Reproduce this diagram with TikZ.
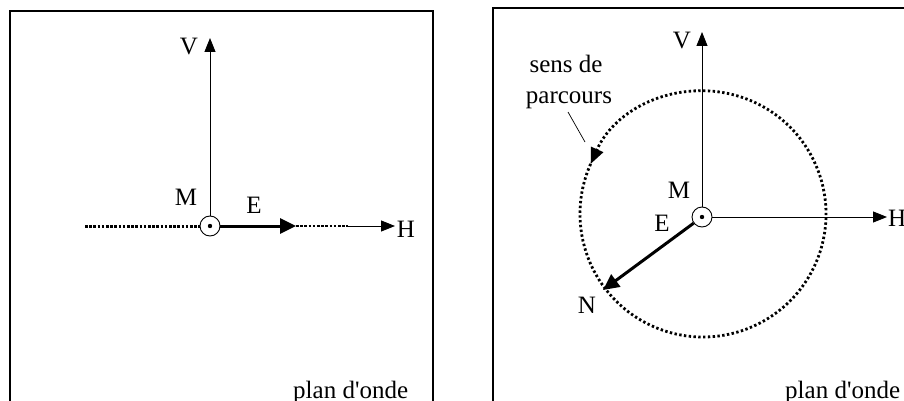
\documentclass[tikz,border=0pt]{standalone}
\usepackage{fontspec}
\setmainfont{Liberation Serif}
\usetikzlibrary{arrows.meta,calc}
\begin{document}
\begin{tikzpicture}[x=1pt,y=-1pt,
  lbl/.style={font=\fontsize{25}{30}\selectfont, inner sep=0pt},
  frame/.style={line width=1.5pt},
  axis/.style={line width=0.9pt, -{Triangle[length=14pt,width=11pt]}},
  evec/.style={line width=3pt, -{Triangle[length=16pt,width=15pt]}},
  dotline/.style={line width=3pt, dash pattern=on 2.6pt off 1.6pt},
  circdots/.style={line width=2.8pt, dash pattern=on 2.4pt off 2.4pt},
  origin/.style={circle, draw, fill=white, minimum size=20pt, inner sep=0pt, line width=0.9pt}]
\useasboundingbox (0,0) rectangle (904,401);
\clip (0,0) rectangle (904,401);
\fill[white] (0,0) rectangle (904,401);

% frames
\draw[frame] (10,420) -- (10,11) -- (433,11) -- (433,420);
\draw[frame] (493,420) -- (493,8) -- (930,8);

% ---------- left panel ----------
\coordinate (V1) at (210,38);
\coordinate (H1) at (395,226);
\coordinate (L1) at (85,226);
\coordinate (E1) at (296,226);
\coordinate (D1) at (348,226);
\draw[dotline] (L1) -- (200,226);
\draw[dotline, line width=2.4pt] (E1) -- (D1);
\draw[axis] (D1) -- (H1);
\node[origin] (M1) at (210,226) {};
\fill (M1.center) circle (2.2pt);
\draw[axis] (M1.north) -- (V1);
\draw[evec] (M1.east) -- (E1);
\node[lbl] (Vl1) at (189,47) {V};
\node[lbl] (Ml1) at (186,197) {M};
\node[lbl] (El1) at (254,205) {E};
\node[lbl] (Hl1) at (406,229) {H};
\node[lbl, anchor=base west] (P1) at (293,398) {plan d\textquotesingle onde};

% ---------- right panel ----------
\coordinate (C2) at (703,214);
\draw[circdots, -{Triangle[length=16pt,width=13pt]}] (C2) ++(204:123)
  arc[start angle=204, end angle=-156, radius=123];
\node[origin] (M2) at (702,217) {};
\fill (M2.center) circle (2.2pt);
\coordinate (V2) at (702,32);
\coordinate (H2) at (887,217);
\coordinate (N2) at ($(M2)+(-99,73)$);
\draw[axis] (M2.north) -- (V2);
\draw[axis] (M2.east) -- (H2);
\draw[evec] (M2) -- (N2);
\coordinate (S1) at (568,112);
\coordinate (S2) at (585,142);
\draw[line width=0.7pt] (S1) -- (S2);
\node[lbl] (Vl2) at (682,41) {V};
\node[lbl] (Ml2) at (679,190) {M};
\node[lbl] (El2) at (662,223) {E};
\node[lbl] (Nl2) at (587,305) {N};
\node[lbl, anchor=west] (Hl2) at (888,218) {H};
\node[lbl, anchor=base] (T1) at (566,73) {sens de};
\node[lbl, anchor=base] (T2) at (569,103) {parcours};
\node[lbl, anchor=base west] (P2) at (785,398) {plan d\textquotesingle onde};
\end{tikzpicture}
\end{document}
